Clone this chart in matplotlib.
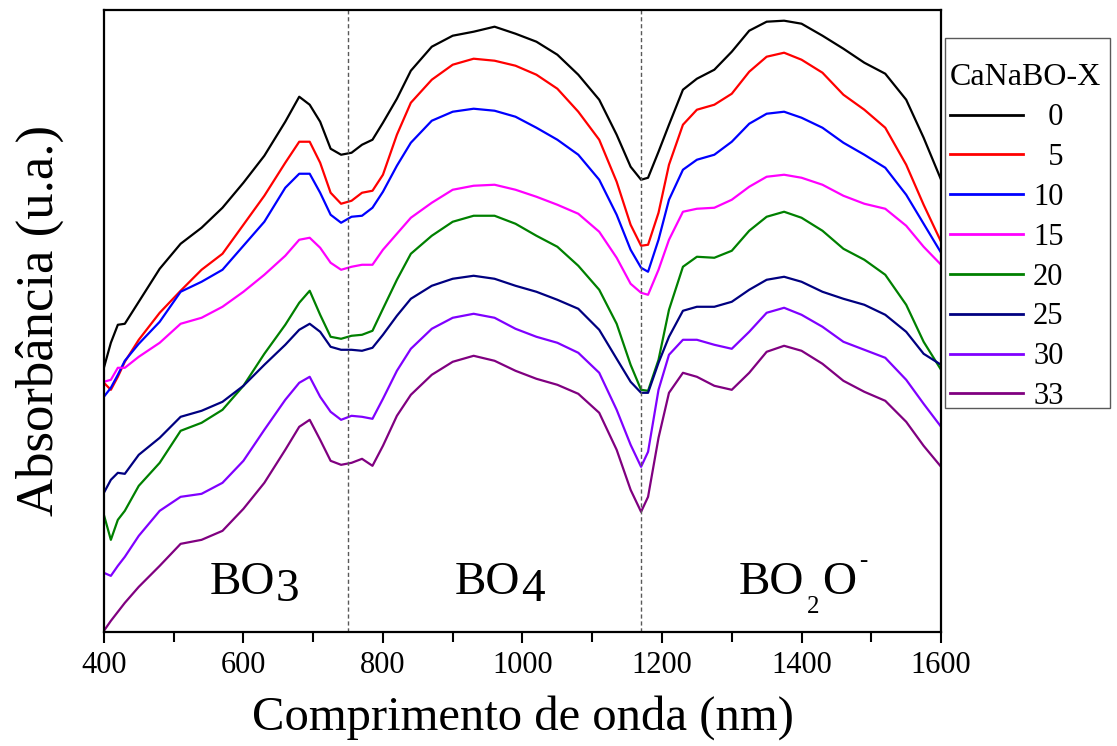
import numpy as np
import matplotlib
matplotlib.use("Agg")
import matplotlib.pyplot as plt
from matplotlib.patches import Rectangle

plt.rcParams['font.family'] = ['Liberation Serif', 'DejaVu Serif']

# comprimento de onda (nm)
wl = [400, 410, 420, 430, 450, 480, 510, 540, 570, 600, 630, 660, 680, 695, 710, 725,
      740, 755, 770, 785, 800, 820, 840, 870, 900, 930, 960, 990, 1020, 1050, 1080, 1110,
      1135, 1155, 1170, 1180, 1195, 1210, 1230, 1250, 1275, 1300, 1325, 1350, 1375, 1400,
      1430, 1460, 1490, 1520, 1550, 1575, 1600]

# absorbancia (u.a.), curvas deslocadas
a0 = [264, 289, 307, 308, 330, 363, 388, 404, 424, 449, 476, 510, 535, 527, 510, 483,
      477, 479, 487, 492, 509, 533, 561, 585, 596, 600, 605, 598, 590, 577, 557, 532,
      497, 465, 452, 454, 480, 507, 542, 553, 562, 580, 601, 610, 611, 608,
      596, 583, 569, 558, 532, 494, 452]
a5 = [249, 242, 255, 270, 292, 319, 341, 362, 378, 407, 436, 469, 490, 490, 469, 439,
      428, 431, 439, 441, 457, 497, 529, 552, 567, 573, 571, 566, 557, 543, 520, 492,
      450, 407, 386, 387, 419, 467, 507, 522, 527, 538, 560, 575, 579, 572,
      559, 537, 522, 504, 467, 427, 390]
a10 = [235, 244, 257, 271, 288, 310, 340, 350, 362, 386, 410, 444, 458, 458, 439, 417,
       409, 415, 416, 424, 440, 466, 489, 511, 520, 523, 521, 515, 504, 492, 477, 452,
       417, 382, 364, 360, 392, 432, 462, 472, 477, 490, 508, 518, 520, 514,
       504, 489, 477, 464, 437, 408, 379]
a15 = [250, 252, 264, 264, 275, 289, 308, 314, 325, 340, 357, 376, 392, 394, 384, 369,
       362, 365, 367, 367, 382, 398, 414, 429, 442, 446, 447, 442, 435, 427, 418, 400,
       374, 348, 339, 337, 362, 392, 420, 423, 424, 432, 445, 455, 457, 454,
       447, 436, 428, 423, 406, 385, 367]
a20 = [117, 92, 112, 121, 146, 169, 201, 209, 222, 246, 278, 307, 329, 341, 317, 295,
       293, 296, 297, 301, 323, 352, 378, 396, 410, 416, 416, 408, 396, 385, 366, 342,
       308, 267, 242, 241, 272, 322, 365, 375, 374, 381, 401, 415, 420, 414,
       401, 383, 372, 357, 327, 290, 262]
a25 = [139, 152, 159, 158, 177, 194, 215, 221, 230, 246, 267, 287, 302, 308, 300, 285,
       282, 282, 281, 284, 297, 316, 333, 346, 353, 356, 353, 346, 340, 332, 323, 302,
       273, 250, 239, 239, 269, 295, 321, 325, 325, 330, 342, 352, 355, 350,
       340, 333, 327, 317, 300, 278, 267]
a30 = [59, 56, 66, 75, 96, 121, 135, 138, 149, 171, 202, 232, 249, 255, 235, 220,
       212, 216, 215, 213, 233, 261, 283, 303, 314, 318, 314, 303, 295, 289, 279, 259,
       222, 187, 165, 180, 242, 277, 292, 292, 287, 283, 300, 319, 324, 317,
       305, 290, 282, 274, 252, 228, 205]
a33 = [1, 11, 20, 29, 45, 66, 88, 92, 101, 123, 149, 182, 205, 212, 192, 171,
       167, 169, 173, 166, 186, 216, 237, 257, 270, 276, 271, 261, 253, 247, 238, 219,
       182, 142, 120, 135, 194, 239, 259, 255, 246, 242, 259, 280, 286, 281,
       268, 251, 240, 231, 210, 186, 165]

series = [a0, a5, a10, a15, a20, a25, a30, a33]
labels = ['  0', '  5', '10', '15', '20', '25', '30', '33']
colors = ['black', 'red', 'blue', 'magenta', 'green', 'navy', '#8000ff', 'purple']

fig = plt.figure(figsize=(11.17, 7.46), dpi=100)
ax = fig.add_axes([0.093, 0.153, 0.7495, 0.834])

for y, lab, c in zip(series, labels, colors):
    ax.plot(wl, y, color=c, lw=1.6, label=lab)

ax.axvline(750, color='0.35', ls='--', lw=1.0, dashes=(3, 2))
ax.axvline(1170, color='0.35', ls='--', lw=1.0, dashes=(3, 2))

ax.set_xlim(400, 1600)
ax.set_ylim(0, 622)
ax.set_xticks(np.arange(400, 1601, 200))
ax.set_xticks(np.arange(500, 1600, 200), minor=True)
ax.set_yticks([])
ax.tick_params(axis='x', which='both', direction='out', labelsize=22, width=1.5, pad=6)
ax.tick_params(axis='x', which='major', length=8)
ax.tick_params(axis='x', which='minor', length=7)
for s in ax.spines.values():
    s.set_linewidth(1.6)

ax.set_xlabel('Comprimento de onda (nm)', fontsize=35, labelpad=11)
ax.set_ylabel('Absorbância (u.a.)', fontsize=38, labelpad=29)

# bandas
fs = 34
yb = 38
ax.text(552, yb, 'BO', fontsize=fs, va='baseline')
ax.annotate('3', xy=(552, yb), xytext=(47.5, -5), textcoords='offset points',
            fontsize=fs, va='baseline')
ax.text(903, yb, 'BO', fontsize=fs, va='baseline')
ax.annotate('4', xy=(903, yb), xytext=(47.5, -5), textcoords='offset points',
            fontsize=fs, va='baseline')
ax.text(1310, yb, 'BO', fontsize=fs, va='baseline')
ax.annotate('2', xy=(1310, yb), xytext=(49, -14), textcoords='offset points',
            fontsize=18, va='baseline')
ax.annotate('O', xy=(1310, yb), xytext=(60, 0), textcoords='offset points',
            fontsize=fs, va='baseline')
ax.annotate('-', xy=(1310, yb), xytext=(86.5, 19), textcoords='offset points',
            fontsize=18, va='baseline')

leg = ax.legend(title='CaNaBO-X', loc='upper left', bbox_to_anchor=(0.8505, 0.915),
                bbox_transform=fig.transFigure, fontsize=22, title_fontsize=23,
                frameon=False, alignment='left',
                handlelength=2.39, handletextpad=0.33, labelspacing=0.355,
                borderpad=0, borderaxespad=0)
for l in leg.get_lines():
    l.set_linewidth(2.0)

fig.patches.append(Rectangle((945 / 1117, 1 - 408 / 746), 165 / 1117, 370 / 746,
                             transform=fig.transFigure, fill=False,
                             edgecolor='0.35', lw=1.0))

fig.savefig('out.png', dpi=100)
